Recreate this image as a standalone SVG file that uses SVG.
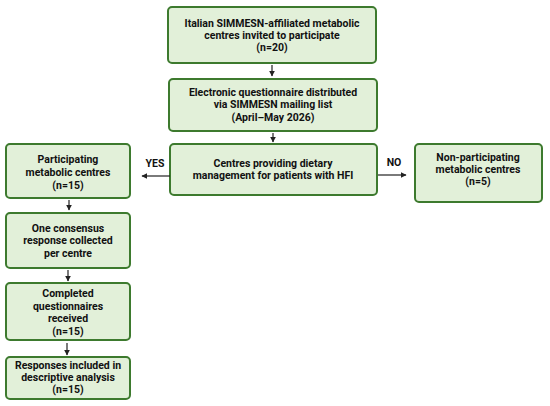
<svg xmlns="http://www.w3.org/2000/svg" width="550" height="406" viewBox="0 0 550 406">
<defs>
<marker id="ah" viewBox="0 0 10 10" refX="9" refY="5" markerWidth="6" markerHeight="6" orient="auto" markerUnits="userSpaceOnUse">
<path d="M0,0 L10,5 L0,10 z" fill="#222"/>
</marker>
<style>
.box{fill:#e2f0d9;stroke:#3d7a2e;stroke-width:2}
.t{font-family:Roboto,"Liberation Sans",sans-serif;font-weight:bold;font-size:10.5px;fill:#111;text-anchor:middle}
.c{stroke:#222;stroke-width:1.2;fill:none;marker-end:url(#ah)}
</style>
</defs>
<rect width="550" height="406" fill="#fff"/>
<g id="n1"><rect class="box" x="168" y="7" width="208" height="56" rx="4"/>
<text class="t" x="272" y="27">Italian SIMMESN-affiliated metabolic</text>
<text class="t" x="272" y="39">centres invited to participate</text>
<text class="t" x="272" y="51">(n=20)</text></g>
<g id="n2"><rect class="box" x="169" y="79" width="208" height="52" rx="4"/>
<text class="t" x="273" y="96">Electronic questionnaire distributed</text>
<text class="t" x="273" y="108">via SIMMESN mailing list</text>
<text class="t" x="273" y="121">(April–May 2026)</text></g>
<g id="n3"><rect class="box" x="170" y="144" width="207" height="51" rx="4"/>
<text class="t" x="273" y="167">Centres providing dietary</text>
<text class="t" x="273" y="179">management for patients with HFI</text></g>
<g id="n4"><rect class="box" x="6" y="144" width="124" height="54" rx="4"/>
<text class="t" x="68" y="163">Participating</text>
<text class="t" x="68" y="176">metabolic centres</text>
<text class="t" x="68" y="189">(n=15)</text></g>
<g id="n5"><rect class="box" x="415" y="144" width="127" height="58" rx="4"/>
<text class="t" x="478" y="161">Non-participating</text>
<text class="t" x="478" y="173">metabolic centres</text>
<text class="t" x="478" y="185">(n=5)</text></g>
<g id="n6"><rect class="box" x="6" y="213" width="124" height="55" rx="4"/>
<text class="t" x="68" y="232">One consensus</text>
<text class="t" x="68" y="244">response collected</text>
<text class="t" x="68" y="257">per centre</text></g>
<g id="n7"><rect class="box" x="6" y="283" width="124" height="57" rx="4"/>
<text class="t" x="68" y="297">Completed</text>
<text class="t" x="68" y="310">questionnaires</text>
<text class="t" x="68" y="322">received</text>
<text class="t" x="68" y="335">(n=15)</text></g>
<g id="n8"><rect class="box" x="6" y="357" width="124" height="42" rx="4"/>
<text class="t" x="68" y="369">Responses included in</text>
<text class="t" x="68" y="381">descriptive analysis</text>
<text class="t" x="68" y="393">(n=15)</text></g>
<g id="connectors">
<line class="c" x1="272" y1="65" x2="272" y2="76"/>
<line class="c" x1="273" y1="133" x2="273" y2="142"/>
<line class="c" x1="170" y1="176" x2="142" y2="176"/>
<line class="c" x1="378" y1="175" x2="406" y2="175"/>
<line class="c" x1="69" y1="200" x2="69" y2="210"/>
<line class="c" x1="68" y1="270" x2="68" y2="281"/>
<line class="c" x1="67" y1="343" x2="67" y2="355"/>
<text class="t" x="155" y="167">YES</text>
<text class="t" x="394" y="166">NO</text>
</g>
</svg>
